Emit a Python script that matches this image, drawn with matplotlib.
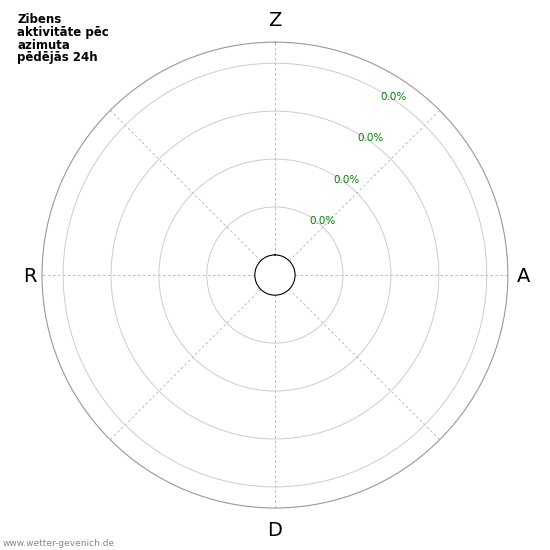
import numpy as np
import matplotlib
matplotlib.use("Agg")
import matplotlib.pyplot as plt

directions = ["N", "NO", "O", "SO", "S", "SW", "W", "NW"]
angles_deg = [0, 45, 90, 135, 180, 225, 270, 315]
strikes_pct = [0.0, 0.0, 0.0, 0.0, 0.0, 0.0, 0.0, 0.0]

compass_labels = ["Z", "A", "D", "R"]
compass_deg = [0, 90, 180, 270]
r_ticks = [1, 2, 3, 4]
r_tick_labels = ["0.0%", "0.0%", "0.0%", "0.0%"]

fig = plt.figure(figsize=(5.5, 5.5), dpi=100)
ax = fig.add_axes([0.0764, 0.0764, 0.847, 0.847], projection="polar")
ax.set_theta_zero_location("N")
ax.set_theta_direction(-1)

theta = np.deg2rad(angles_deg)
ax.bar(theta, strikes_pct, width=np.deg2rad(40), color="#3c8c3c", alpha=0.7)

rmax = 4.44
ax.set_ylim(0, rmax)
ax.set_rorigin(-0.42)

ax.set_xticks(theta)
ax.set_xticklabels([])
ax.set_rticks(r_ticks)
ax.set_yticklabels([])

# compass letters just outside the rim
nudge = {"Z": (0, 21.5), "A": (15.5, -1.5), "D": (0, -22.5), "R": (-12.5, -1)}
for deg, lbl in zip(compass_deg, compass_labels):
    ax.annotate(lbl, (np.deg2rad(deg), rmax), xytext=nudge[lbl],
                textcoords="offset pixels", ha="center", va="center",
                fontsize=14, annotation_clip=False)

# percentage labels along the 30 degree ray
for r, lbl in zip(r_ticks, r_tick_labels):
    ax.text(np.deg2rad(30), r, lbl, color="green", fontsize=7.5,
            ha="left", va="top")

ax.xaxis.grid(True, color="#b0b0b0", linestyle=(0, (3, 3)), linewidth=0.6)
ax.yaxis.grid(True, color="#cccccc", linestyle="-", linewidth=0.7)

ax.spines["polar"].set_color("#999999")
ax.spines["polar"].set_linewidth(0.8)
ax.spines["inner"].set_color("black")
ax.spines["inner"].set_linewidth(0.8)

fig.text(0.031, 0.976, "Zibens\naktivitāte pēc\nazimuta\npēdējās 24h",
         fontsize=8.5, fontweight="bold", va="top", ha="left", linespacing=0.97)
fig.text(0.004, 0.003, "www.wetter-gevenich.de", fontsize=6.5, color="#888888",
         va="bottom", ha="left")

fig.savefig("out.png", dpi=100)
